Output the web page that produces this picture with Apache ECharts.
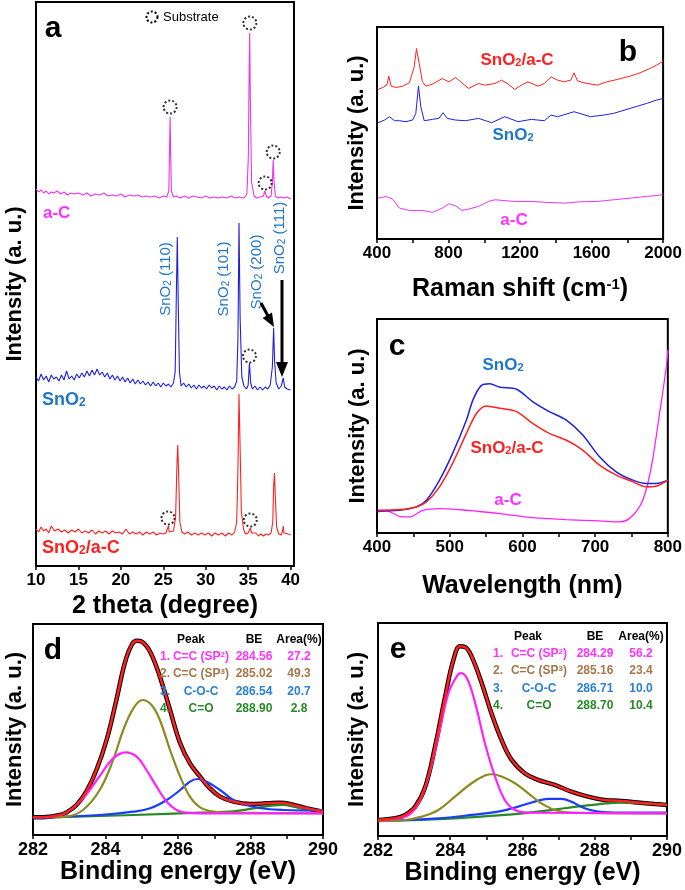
<!DOCTYPE html>
<html>
<head>
<meta charset="utf-8">
<script src="https://cdn.jsdelivr.net/npm/echarts@6/dist/echarts.min.js"></script>
<style>
html,body{margin:0;padding:0;background:#fff}
#main{width:685px;height:890px}
</style>
</head>
<body>
<div id="main"></div>
<script>
// ---- panel a : XRD, [2theta, intensity] (traces offset) ----
var xrdAC = [[10,378],[10.3,375],[10.6,377],[10.9,374],[11.2,376],[11.5,373],[11.8,375],[12.1,374],[12.5,376],[12.9,373],[13.3,375],[13.7,372],[14.1,374],[14.5,373],[15,374],[15.5,372],[16,374],[16.5,371],[17,373],[17.5,372],[18,374],[18.5,371],[19,372],[19.5,371],[20,373],[20.5,370],[21,372],[21.5,371],[22,372],[22.5,370],[23,371],[23.5,370],[24,371],[24.5,369],[25,371],[25.4,370],[25.65,376],[25.74,420],[25.8,450],[25.86,418],[25.95,376],[26.2,370],[26.5,371],[27,369],[27.5,371],[28,369],[28.5,371],[29,370],[29.5,369],[30,371],[30.5,369],[31,370],[31.5,369],[32,370],[32.5,369],[33,371],[33.5,369],[34,370],[34.5,369],[34.85,373],[35.02,410],[35.12,500],[35.18,534],[35.25,470],[35.4,385],[35.7,371],[36,369],[36.4,370],[36.8,371],[36.95,376],[37.05,378],[37.15,371],[37.4,369],[37.7,371],[37.85,385],[37.95,407],[38.05,385],[38.2,371],[38.5,369],[38.8,370],[39.2,369],[39.6,370],[40,368]];
var xrdSnO2 = [[10,190],[10.3,186],[10.6,193],[10.9,187],[11.2,191],[11.5,185],[11.8,192],[12.1,188],[12.4,190],[12.7,186],[13,192],[13.3,187],[13.6,196],[13.9,188],[14.2,191],[14.5,187],[14.8,193],[15.1,189],[15.4,194],[15.7,190],[16,196],[16.3,191],[16.6,197],[16.9,192],[17.2,198],[17.5,192],[17.8,195],[18.1,190],[18.4,194],[18.7,188],[19,192],[19.3,187],[19.6,191],[19.9,186],[20.2,190],[20.5,185],[20.8,189],[21.1,184],[21.4,188],[21.7,183],[22,187],[22.3,183],[22.6,186],[22.9,182],[23.2,185],[23.5,181],[23.8,185],[24.1,181],[24.4,184],[24.7,180],[25,184],[25.3,181],[25.6,183],[25.9,180],[26.2,184],[26.4,195],[26.55,280],[26.65,330],[26.75,270],[26.9,195],[27.1,181],[27.4,184],[27.7,180],[28,183],[28.3,179],[28.6,182],[28.9,178],[29.2,182],[29.5,179],[29.8,181],[30.1,178],[30.4,182],[30.7,179],[31,181],[31.3,177],[31.6,181],[31.9,178],[32.2,180],[32.5,177],[32.8,181],[33.1,178],[33.4,180],[33.65,186],[33.8,230],[33.92,344],[34.05,250],[34.25,190],[34.5,181],[34.8,178],[35,182],[35.15,204],[35.3,184],[35.5,178],[35.8,181],[36.1,177],[36.4,180],[36.7,177],[37,180],[37.3,178],[37.6,182],[37.85,200],[38,239],[38.12,205],[38.3,184],[38.6,178],[38.9,181],[39.13,189],[39.3,180],[39.6,178],[39.8,180],[40,177]];
var xrdComp = [[10,38],[10.3,35],[10.6,40],[10.9,36],[11.2,38],[11.5,34],[11.8,41],[12.2,36],[12.6,38],[13,35],[13.4,37],[13.8,34],[14.2,37],[14.6,35],[15,38],[15.4,34],[15.8,36],[16.2,34],[16.6,37],[17,33],[17.4,36],[17.8,34],[18.2,36],[18.6,33],[19,36],[19.4,34],[19.8,35],[20.2,33],[20.6,38],[21,33],[21.4,35],[21.8,33],[22.2,35],[22.6,32],[23,35],[23.4,33],[23.8,35],[24.2,32],[24.6,34],[25,33],[25.3,34],[25.5,36],[25.6,41],[25.7,35],[25.9,34],[26.2,36],[26.45,50],[26.6,100],[26.7,122],[26.8,95],[26.95,45],[27.2,35],[27.5,33],[27.9,35],[28.3,32],[28.7,34],[29.1,32],[29.5,34],[29.9,32],[30.3,34],[30.7,31],[31.1,34],[31.5,32],[31.9,34],[32.3,31],[32.7,34],[33.1,32],[33.4,35],[33.65,45],[33.8,100],[33.92,173],[34.05,120],[34.2,55],[34.45,38],[34.7,33],[35,34],[35.15,36],[35.26,39],[35.4,34],[35.6,32],[35.9,34],[36.2,31],[36.5,33],[36.8,31],[37.1,33],[37.4,32],[37.7,34],[37.9,45],[38,80],[38.1,94],[38.2,70],[38.35,40],[38.6,33],[38.9,32],[39.05,36],[39.13,41],[39.22,34],[39.4,32],[39.7,33],[40,32]];
// substrate peak markers (2theta, intensity)
var substrate = [[25.8,460],[35.2,544],[37.0,384],[37.95,415],[35.15,211],[25.55,49],[35.25,47]];

// ---- panel b : Raman ----
var ramanCompX = [406,433,455,466,479,507,544,581,608,621,636,654,673,710,765,802,839,875,912,968,1004,1060,1097,1134,1170,1207,1244,1300,1336,1373,1410,1447,1484,1502,1521,1557,1631,1686,1742,1815,1871,1926,1963,2000];
var ramanCompY = [450,456,463,490,460,456,460,470,518,573,528,473,460,466,483,473,486,470,453,468,463,468,478,466,450,463,473,460,468,488,478,473,478,500,476,470,463,473,480,490,500,513,523,535];
var ramanSnO2X = [406,442,470,498,525,562,599,617,632,645,664,710,746,769,793,839,894,968,1041,1115,1189,1263,1336,1373,1410,1502,1594,1668,1723,1815,1908,1963,2000];
var ramanSnO2Y = [350,358,368,356,356,353,358,378,460,398,356,360,363,380,363,358,356,363,350,368,353,360,356,373,368,383,368,373,378,393,408,418,423];
var ramanACX = [406,452,488,525,581,654,710,765,802,839,875,912,968,1023,1060,1170,1263,1355,1447,1539,1631,1723,1815,1908,2000];
var ramanACY = [123,128,120,93,86,86,80,93,106,100,86,90,98,113,118,113,113,110,108,112,113,118,123,128,133];

// ---- panel c : PL ----
var plSnO2X = [401,431,454,468,486,504,523,532,543,555,569,592,614,637,660,683,706,729,752,770,784,800];
var plSnO2Y = [66,68,78,98,158,238,338,398,440,446,436,430,393,363,338,293,228,183,158,148,148,158];
var plCompX = [401,431,454,468,486,504,523,537,550,569,592,614,637,660,683,706,729,752,770,784,800];
var plCompY = [68,70,78,93,138,208,298,358,380,373,363,328,298,278,248,203,173,153,138,140,158];
var plACX = [401,413,431,445,463,486,523,569,614,660,706,734,747,761,770,779,788,798,800];
var plACY = [63,66,50,48,68,73,68,58,46,40,36,33,43,78,128,218,348,498,548];

// ---- panel d : XPS C1s a-C ----
var dEnvX = [282.00,282.46,282.74,282.92,283.20,283.47,283.75,284.03,284.30,284.53,284.72,284.86,285.00,285.23,285.50,285.78,286.06,286.33,286.61,286.88,287.16,287.53,287.99,288.45,288.82,289.19,289.56,290.00];
var dEnvY = [63,65,70,77,100,140,205,295,415,525,580,593,590,560,485,385,285,225,185,150,125,110,103,105,107,100,90,80];
var dSp2X = [282.37,282.92,283.38,283.84,284.21,284.56,284.86,285.13,285.41,285.69,285.96,286.24,286.61,290];
var dSp2Y = [63,77,120,187,240,258,245,205,155,110,85,77,75,75];
var dSp3X = [282.55,282.92,283.38,283.84,284.21,284.49,284.77,285.02,285.27,285.50,285.78,286.06,286.33,286.61,286.98,287.53,290];
var dSp3Y = [63,65,85,145,235,325,390,415,400,355,265,185,125,93,80,77,75];
var dCOCX = [282,283.84,284.77,285.23,285.69,286.06,286.33,286.54,286.79,287.16,287.53,287.99,288.45,288.91,290];
var dCOCY = [61,70,80,90,115,145,170,178,170,145,115,97,88,85,83];
var dCOX = [282,284.77,286.61,287.53,288.08,288.64,288.91,289.19,289.56,290];
var dCOY = [61,70,77,81,90,99,100,95,87,83];

// ---- panel e : XPS C1s SnO2/a-C ----
var eEnvX = [282,282.48,282.75,283.03,283.31,283.58,283.86,284.09,284.27,284.41,284.59,284.87,285.14,285.42,285.70,286.06,286.43,286.89,287.35,287.81,288.27,288.73,289.19,289.65,290];
var eEnvY = [48,53,63,88,148,268,418,528,568,566,538,458,368,288,228,188,168,153,133,118,108,105,100,96,93];
var eSp2X = [282,282.75,283.12,283.40,283.67,283.95,284.18,284.29,284.46,284.69,284.96,285.24,285.51,285.79,286.16,290];
var eSp2Y = [48,58,98,178,298,428,478,488,473,398,278,178,108,78,70,68];
var eSp3X = [282,282.75,283.21,283.67,284.13,284.59,284.96,285.16,285.42,285.79,286.16,286.52,286.89,287.35,290];
var eSp3Y = [45,48,58,78,118,158,181,185,178,158,128,98,78,70,68];
var eCOCX = [282,283.67,284.59,285.33,285.88,286.34,286.71,287.08,287.35,287.72,288.09,288.73,290];
var eCOCY = [45,53,63,73,88,103,111,111,103,83,73,70,70];
var eCOX = [282,284.13,285.51,286.43,287.35,288.09,288.73,289.37,290];
var eCOY = [45,53,63,73,86,95,100,98,93];

// fit tables
var peakNames = ['C=C (SP{sup|2})', 'C=C (SP{sup|3})', 'C-O-C', 'C=O'];
var dBE = ['284.56', '285.02', '286.54', '288.90'];
var dArea = ['27.2', '49.3', '20.7', '2.8'];
var eBE = ['284.29', '285.16', '286.71', '288.70'];
var eArea = ['56.2', '23.4', '10.0', '10.4'];

var FONT = 'Liberation Sans';
var MAG = '#ff33ff', RED = '#ff2020', BLUE_T = '#2020dd', BLUE_L = '#1f77c9';
var OLIVE = '#8c8c1e', BROWN = '#a5774a', XBLUE = '#1a3cff', GREEN = '#268a26';
var rowColors = [MAG, BROWN, '#2a80d6', GREEN];

function pairs(xs, ys) { return xs.map(function (x, i) { return [x, ys[i]]; }); }

function line(gi, data, color, width, smooth, z) {
  return {
    type: 'line', xAxisIndex: gi, yAxisIndex: gi, data: data,
    showSymbol: false, symbol: 'none', smooth: smooth || false,
    lineStyle: {color: color, width: width}, itemStyle: {color: color},
    z: z || 2, silent: true
  };
}

function rich(size, color, weight) {
  var s = Math.round(size * 0.65);
  return {
    sub: {fontSize: s, fontFamily: FONT, fontWeight: weight, fill: color, color: color, verticalAlign: 'bottom', lineHeight: Math.round(size * 0.55)},
    sup: {fontSize: s, fontFamily: FONT, fontWeight: weight, fill: color, color: color, verticalAlign: 'top', lineHeight: Math.round(size * 0.5)}
  };
}

function txt(x, y, text, color, size, o) {
  o = o || {};
  var w = o.weight || 'bold';
  return {
    type: 'text', x: x, y: y, rotation: o.rot || 0, z: 100, silent: true,
    style: {
      text: text, fill: color, fontFamily: FONT, fontSize: size, fontWeight: w,
      align: o.align || 'center', textAlign: o.align || 'center',
      verticalAlign: 'middle', textVerticalAlign: 'middle',
      rich: rich(size, color, w)
    }
  };
}

function xAx(gi, min, max, interval, name, gap, labelSize, minor) {
  return {
    type: 'value', gridIndex: gi, min: min, max: max, interval: interval,
    name: name, nameLocation: 'middle', nameGap: gap,
    nameTextStyle: {fontFamily: FONT, fontWeight: 'bold', fontSize: 25, color: '#000',
      rich: {sup: {fontFamily: FONT, fontWeight: 'bold', fontSize: 15, color: '#000', verticalAlign: 'top', lineHeight: 12}}},
    axisLine: {onZero: false, lineStyle: {color: '#000', width: 2}},
    axisTick: {show: true, inside: false, length: 4, lineStyle: {color: '#000', width: 1.5}},
    minorTick: minor ? {show: true, splitNumber: minor, length: 4, lineStyle: {color: '#000', width: 1.5}} : {show: false},
    axisLabel: {fontFamily: FONT, fontWeight: 'bold', fontSize: labelSize, color: '#000', margin: 6,
      showMaxLabel: max === 40.4 ? false : null,
      formatter: function (v) { return String(v); }},
    splitLine: {show: false}, minorSplitLine: {show: false}
  };
}

function yAx(gi, min, max, gap) {
  return {
    type: 'value', gridIndex: gi, min: min, max: max,
    name: 'Intensity (a. u.)', nameLocation: 'middle', nameGap: gap,
    nameTextStyle: {fontFamily: FONT, fontWeight: 'bold', fontSize: 22, color: '#000'},
    axisLine: {show: true, onZero: false, lineStyle: {color: '#000', width: 2}},
    axisTick: {show: false}, axisLabel: {show: false}, splitLine: {show: false}
  };
}

function grid(l, t, w, h) {
  return {left: l, top: t, width: w, height: h, show: true, borderColor: '#000', borderWidth: 2, backgroundColor: 'transparent'};
}

var graphics = [
  txt(53, 29, 'a', '#000', 30), txt(628, 53, 'b', '#000', 30), txt(397, 347, 'c', '#000', 30),
  txt(53, 651, 'd', '#000', 30), txt(398, 650, 'e', '#000', 30),
  {type: 'circle', shape: {cx: 152, cy: 17, r: 5.5}, z: 100, style: {fill: 'none', stroke: '#000', lineWidth: 2, lineDash: [2, 2]}},
  txt(163, 17, 'Substrate', '#000', 13, {align: 'left', weight: 'normal'}),
  txt(43, 213, 'a-C', MAG, 17, {align: 'left'}),
  txt(42, 400, 'SnO{sub|2}', BLUE_L, 18, {align: 'left'}),
  txt(42, 548, 'SnO{sub|2}/a-C', RED, 18, {align: 'left'}),
  txt(166, 279, 'SnO{sub|2} (110)', BLUE_L, 15, {rot: Math.PI / 2, weight: 'normal'}),
  txt(224, 279, 'SnO{sub|2} (101)', BLUE_L, 15, {rot: Math.PI / 2, weight: 'normal'}),
  txt(257, 272, 'SnO{sub|2} (200)', BLUE_L, 15, {rot: Math.PI / 2, weight: 'normal'}),
  txt(280, 238, 'SnO{sub|2} (111)', BLUE_L, 15, {rot: Math.PI / 2, weight: 'normal'}),
  {type: 'line', z: 100, shape: {x1: 261, y1: 303, x2: 268, y2: 316}, style: {stroke: '#000', lineWidth: 3}},
  {type: 'polygon', z: 100, shape: {points: [[274, 327], [262.6, 318], [272, 312.6]]}, style: {fill: '#000'}},
  {type: 'line', z: 100, shape: {x1: 282, y1: 280, x2: 282, y2: 366}, style: {stroke: '#000', lineWidth: 3}},
  {type: 'polygon', z: 100, shape: {points: [[276, 362], [288, 362], [282, 377]]}, style: {fill: '#000'}},
  txt(517, 60, 'SnO{sub|2}/a-C', RED, 17),
  txt(513, 135, 'SnO{sub|2}', BLUE_L, 17),
  txt(514, 220, 'a-C', MAG, 17),
  txt(503, 365, 'SnO{sub|2}', BLUE_L, 17),
  txt(507, 448, 'SnO{sub|2}/a-C', RED, 17),
  txt(508, 500, 'a-C', MAG, 17)
];

function table(hx, numX, nameX, beX, arX, y0, rows, be, area) {
  graphics.push(txt(hx, y0, 'Peak', '#000', 12));
  graphics.push(txt(beX, y0, 'BE', '#000', 12));
  graphics.push(txt(arX, y0, 'Area(%)', '#000', 12));
  for (var i = 0; i < rows.length; i++) {
    var y = y0 + 17 * (i + 1) + (i > 1 ? 1 : 0), c = rowColors[i];
    graphics.push(txt(numX, y, (i + 1) + '.', c, 12, {align: 'left'}));
    graphics.push(txt(nameX, y, rows[i], c, 12));
    graphics.push(txt(beX, y, be[i], c, 12));
    graphics.push(txt(arX, y, area[i], c, 12));
  }
}
table(191, 160, 201, 254, 299, 640, peakNames, dBE, dArea);
table(528, 493, 539, 595, 641, 637, peakNames, eBE, eArea);

var series = [
  line(0, xrdAC, '#ee33ee', 1.1),
  line(0, xrdSnO2, BLUE_T, 1.1),
  line(0, xrdComp, RED, 1.1),
  {type: 'scatter', xAxisIndex: 0, yAxisIndex: 0, data: substrate, symbol: 'circle', symbolSize: 13, z: 5, silent: true,
    itemStyle: {color: 'rgba(0,0,0,0)', borderColor: '#000', borderWidth: 2, borderType: [2, 2]}},
  line(1, pairs(ramanCompX, ramanCompY), RED, 1),
  line(1, pairs(ramanSnO2X, ramanSnO2Y), BLUE_T, 1),
  line(1, pairs(ramanACX, ramanACY), '#ee33ee', 1),
  line(2, pairs(plACX, plACY), '#ff22ff', 1.3, 0.3),
  line(2, pairs(plSnO2X, plSnO2Y), BLUE_T, 1.5, 0.3),
  line(2, pairs(plCompX, plCompY), RED, 1.5, 0.3),
  line(3, pairs(dEnvX, dEnvY), '#000', 4.5, 0.4, 1),
  line(3, pairs(dCOX, dCOY), GREEN, 2.2, 0.4),
  line(3, pairs(dCOCX, dCOCY), XBLUE, 2.2, 0.4),
  line(3, pairs(dSp3X, dSp3Y), OLIVE, 2.2, 0.4),
  line(3, pairs(dSp2X, dSp2Y), '#ff22ff', 2.2, 0.4),
  line(3, pairs(dEnvX, dEnvY), RED, 2.5, 0.4, 3),
  line(4, pairs(eEnvX, eEnvY), '#000', 4.5, 0.4, 1),
  line(4, pairs(eCOX, eCOY), GREEN, 2.2, 0.4),
  line(4, pairs(eCOCX, eCOCY), XBLUE, 2.2, 0.4),
  line(4, pairs(eSp3X, eSp3Y), OLIVE, 2.2, 0.4),
  line(4, pairs(eSp2X, eSp2Y), '#ff22ff', 2.2, 0.4),
  line(4, pairs(eEnvX, eEnvY), RED, 2.5, 0.4, 3)
];

echarts.init(document.getElementById('main')).setOption({
  animation: false,
  backgroundColor: '#fff',
  grid: [grid(36, 2, 258, 564), grid(377, 27, 290, 212), grid(377, 319, 292, 214), grid(33, 624, 290, 211), grid(378, 623, 291, 213)],
  xAxis: [
    xAx(0, 10, 40.4, 5, '2 theta (degree)', 25, 17, 0),
    xAx(1, 400, 2000, 400, 'Raman shift (cm{sup|-1})', 38, 17, 2),
    xAx(2, 400, 800, 100, 'Wavelength (nm)', 41, 17, 2),
    xAx(3, 282, 290, 2, 'Binding energy (eV)', 22, 18, 2),
    xAx(4, 282, 290, 2, 'Binding energy (eV)', 21, 18, 2)
  ],
  yAxis: [yAx(0, 1, 565, 10), yAx(1, 0, 638, 9), yAx(2, 0, 640, 8), yAx(3, 10, 643, 7), yAx(4, 0, 638, 10)],
  graphic: {zlevel: 1, elements: graphics},
  series: series
});
</script>
</body>
</html>
